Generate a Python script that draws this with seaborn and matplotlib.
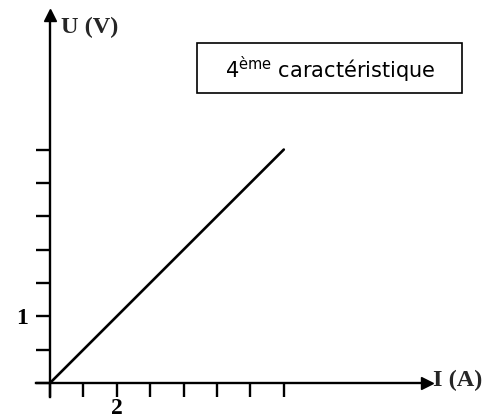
import numpy as np
import pandas as pd
import matplotlib
matplotlib.use("Agg")
import matplotlib.pyplot as plt
import seaborn as sns
from matplotlib.patches import Rectangle

# data: 4th characteristic, straight line through origin
courant = [0, 7]        # I (A)
tension = [0, 3.5]      # U (V)
x_ticks = [0, 1, 2, 3, 4, 5, 6, 7]
y_ticks = [0, 0.5, 1, 1.5, 2, 2.5, 3, 3.5]
x_labels = {2: "2"}
y_labels = {1: "1"}

df = pd.DataFrame({"I": courant, "U": tension})

sns.set_theme(style="white")
W, H = 485, 419
fig = plt.figure(figsize=(W / 100, H / 100), dpi=100)
ax = fig.add_axes([0, 0, 1, 1])

# pixel scales
x0, y0 = 50, 383
px_x = 33.4
px_y = 66.7
ax.set_xlim(-x0 / px_x, (W - x0) / px_x)
ax.set_ylim(-(H - y0) / px_y, y0 / px_y)

sns.lineplot(data=df, x="I", y="U", ax=ax, color="black", linewidth=1.9)

# axes through the origin
for s in ["top", "right"]:
    ax.spines[s].set_visible(False)
ax.spines["left"].set_position(("data", 0))
ax.spines["bottom"].set_position(("data", 0))
for s in ["left", "bottom"]:
    ax.spines[s].set_color("black")
    ax.spines[s].set_linewidth(1.7)
ax.spines["bottom"].set_bounds(-14 / px_x, (420 - x0) / px_x)
ax.spines["left"].set_bounds(-14 / px_y, (y0 - 22) / px_y)

# arrow heads
ax.plot((427 - x0) / px_x, 0, marker=">", color="black", markersize=9, clip_on=False)
ax.plot(0, (y0 - 15) / px_y, marker="^", color="black", markersize=9, clip_on=False)

ax.set_xticks(x_ticks)
ax.set_yticks(y_ticks)
ax.set_xticklabels([x_labels.get(t, "") for t in x_ticks])
ax.set_yticklabels([y_labels.get(t, "") for t in y_ticks])
ax.tick_params(axis="both", direction="out", length=10, width=1.7, color="black",
               labelsize=17, bottom=True, left=True)
ax.tick_params(axis="x", pad=1)
ax.tick_params(axis="y", pad=6)
for lab in ax.get_xticklabels() + ax.get_yticklabels():
    lab.set_fontfamily("Liberation Serif")
    lab.set_fontweight("bold")
    lab.set_color("black")
ax.set_xlabel("")
ax.set_ylabel("")
ax.grid(False)

# axis names
ax.text(433 / W, 1 - 380 / H, "I (A)", transform=ax.transAxes, family="Liberation Serif",
        fontweight="bold", fontsize=17.5, va="center", ha="left")
ax.text(61 / W, 1 - 27 / H, "U (V)", transform=ax.transAxes, family="Liberation Serif",
        fontweight="bold", fontsize=17.5, va="center", ha="left")

# boxed caption
ax.add_patch(Rectangle((197 / W, 1 - 93 / H), 265 / W, 50 / H, transform=ax.transAxes,
                       fill=False, edgecolor="black", linewidth=1.2, clip_on=False))
ax.text(330 / W, 1 - 69 / H, "4$^{\\mathregular{ème}}$ caractéristique", transform=ax.transAxes,
        fontsize=15, family="DejaVu Sans", ha="center", va="center", color="black")

fig.savefig("out.png", dpi=100)
